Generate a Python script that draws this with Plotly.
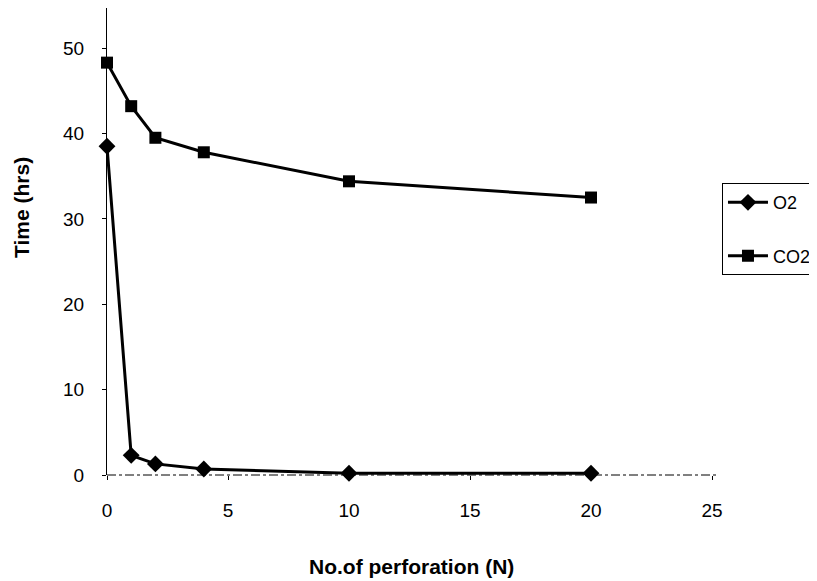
import plotly.graph_objects as go

perforations = [0, 1, 2, 4, 10, 20]
o2_time = [38.5, 2.3, 1.3, 0.7, 0.2, 0.2]
co2_time = [48.3, 43.2, 39.5, 37.8, 34.4, 32.5]

x_ticks = [0, 5, 10, 15, 20, 25]
y_ticks = [0, 10, 20, 30, 40, 50]

FONT = "Liberation Sans, Arial, sans-serif"

fig = go.Figure()
fig.add_trace(go.Scatter(
    x=perforations, y=o2_time, name="O2", mode="lines+markers",
    line=dict(color="black", width=3),
    marker=dict(symbol="diamond", size=13, color="black"),
    cliponaxis=False, legendgroup="a"))
fig.add_trace(go.Scatter(
    x=perforations, y=co2_time, name="CO2", mode="lines+markers",
    line=dict(color="black", width=3),
    marker=dict(symbol="square", size=12, color="black"),
    cliponaxis=False, legendgroup="b"))

fig.update_layout(
    width=817, height=581,
    margin=dict(l=99, r=113, t=0, b=114, autoexpand=False),
    plot_bgcolor="white", paper_bgcolor="white",
    font=dict(family=FONT, size=19, color="black"),
    showlegend=True,
    legend=dict(x=1.0165, y=0.625, xanchor="left", yanchor="top",
                bordercolor="black", borderwidth=1,
                font=dict(size=18), tracegroupgap=27, itemwidth=40,
                bgcolor="white"),
    xaxis=dict(range=[0, 25], tickvals=x_ticks, ticks="outside", ticklen=4,
               tickcolor="black", showgrid=False, zeroline=False,
               showline=False, ticklabelstandoff=14),
    yaxis=dict(range=[0, 54.7], tickvals=y_ticks, ticks="outside", ticklen=4,
               tickcolor="black", showgrid=False, zeroline=False,
               showline=True, linecolor="black", linewidth=1,
               ticklabelstandoff=14),
    annotations=[
        dict(text="<b>No.of perforation (N)</b>", xref="paper", yref="paper",
             x=0.504, y=-0.195, xanchor="center", yanchor="middle",
             showarrow=False, font=dict(size=21)),
        dict(text="<b>Time (hrs)</b>", xref="paper", yref="paper",
             x=-0.1405, y=0.574, xanchor="center", yanchor="middle",
             textangle=-90, showarrow=False, font=dict(size=21)),
    ],
)
fig.add_shape(type="line", xref="x domain", yref="y domain",
              x0=0, x1=1.01, y0=0, y1=0,
              line=dict(color="black", width=1, dash="dashdot"))

fig.write_html("out.html")
